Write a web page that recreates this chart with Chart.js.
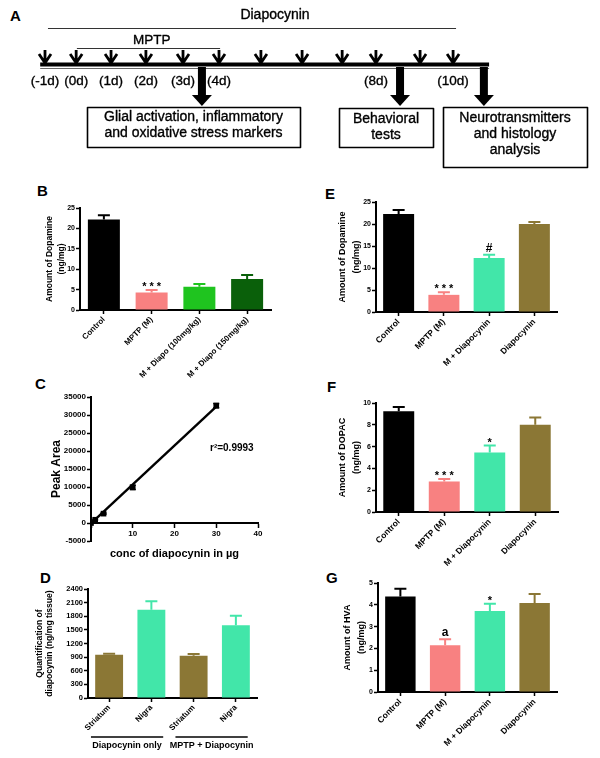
<!DOCTYPE html>
<html>
<head>
<meta charset="utf-8">
<title>Diapocynin / MPTP</title>
<script src="https://cdn.jsdelivr.net/npm/chart.js@4.4.3/dist/chart.umd.min.js"></script>
<style>
  html, body { margin: 0; padding: 0; background: #fff; }
  #fig { position: relative; width: 600px; height: 758px; overflow: hidden; }
  #fig canvas { position: absolute; }
  .tag { position: absolute; font: bold 15px Arial, 'Liberation Sans', sans-serif; line-height: 1; color: #000; }
</style>
</head>
<body>
<div id="fig">
  <div class="tag" style="left:10px;top:8px">A</div>
  <div class="tag" style="left:37px;top:183px">B</div>
  <div class="tag" style="left:35px;top:376px">C</div>
  <div class="tag" style="left:40px;top:570px">D</div>
  <div class="tag" style="left:325px;top:186px">E</div>
  <div class="tag" style="left:327px;top:379px">F</div>
  <div class="tag" style="left:326px;top:570px">G</div>
</div>
<script>
/* ---------- A: treatment timeline ---------- */
// positions are in days, as they sit on the drawn time line (spacing is uneven in the sketch)
const doseDays   = [-1, -0.16, 0.78, 1.72, 2.72, 3.69, 4.82, 5.93, 7.01, 7.92, 9.11, 10];
const doseLabels = ['(-1d)', '(0d)', '(1d)', '(2d)', '(3d)', '(4d)', '', '', '', '(8d)', '', '(10d)'];
const treatNames   = ['Diapocynin', 'MPTP'];
const treatFrom    = [-0.92, -0.14];
const treatTo      = [10.08, 3.72];
const treatLabelAt = [5.2, 1.88];
const timelineEnds = [-1.13, 10.97];
const readoutDays  = [3.23, 8.57, 10.83];
const readoutText  = [
  ['Glial activation, inflammatory', 'and oxidative stress markers'],
  ['Behavioral', 'tests'],
  ['Neurotransmitters', 'and histology', 'analysis']
];

/* ---------- B: dopamine, dose response ---------- */
const bLabels = ['Control', 'MPTP (M)', 'M + Diapo (100mg/kg)', 'M + Diapo (150mg/kg)'];
const bValues = [22.2, 4.3, 5.7, 7.6];
const bErrors = [1.0, 0.6, 0.7, 1.0];
const bMarks  = ['', '* * *', '', ''];
const bTicks  = [0, 5, 10, 15, 20, 25];

/* ---------- C: calibration ---------- */
const concX    = [0, 1, 3, 10, 30];
const areaY    = [0, 900, 2600, 9900, 32600];
const areaErr  = [0, 100, 200, 600, 600];
const fitX     = [0, 30];
const fitY     = [-100, 32300];
const cYTicks  = [-5000, 0, 5000, 10000, 15000, 20000, 25000, 30000, 35000];
const cXTicks  = [0, 10, 20, 30, 40];
const rSqText  = 'r\u00b2=0.9993';
const rSqAt    = [28.5, 20800];

/* ---------- D: diapocynin in tissue ---------- */
const dLabels = ['Striatum', 'Nigra', 'Striatum', 'Nigra'];
const dValues = [955, 1945, 932, 1600];
const dErrors = [20, 183, 37, 213];
const dTicks  = [0, 300, 600, 900, 1200, 1500, 1800, 2100, 2400];
const groupNames = ['Diapocynin only', 'MPTP + Diapocynin'];
const groupFirst = [0, 2];
const groupLast  = [1, 3];

/* ---------- E/F/G ---------- */
const groupLabels = ['Control', 'MPTP (M)', 'M + Diapocynin', 'Diapocynin'];
const eValues = [22.3, 3.9, 12.3, 20.0];
const eErrors = [0.9, 0.6, 0.7, 0.45];
const eMarks  = ['', '* * *', '#', ''];
const eTicks  = [0, 5, 10, 15, 20, 25];

const fValues = [9.24, 2.8, 5.47, 8.0];
const fErrors = [0.4, 0.22, 0.62, 0.68];
const fMarks  = ['', '* * *', '*', ''];
const fTicks  = [0, 2, 4, 6, 8, 10];

const gValues = [4.38, 2.15, 3.72, 4.08];
const gErrors = [0.36, 0.27, 0.33, 0.41];
const gMarks  = ['', 'a', '*', ''];
const gTicks  = [0, 1, 2, 3, 4, 5];

const BLACK = '#000000', PINK = '#f88181', GREEN = '#1fc41f', DKGREEN = '#0a600a',
      MINT = '#42e6a9', OLIVE = '#8b7735';

const FONT = "Arial, 'Liberation Sans', Helvetica, sans-serif";
const NARROW = "'Liberation Sans Narrow', 'Arial Narrow', Arial, sans-serif";
Chart.defaults.font.family = FONT;
Chart.defaults.font.weight = 'bold';
Chart.defaults.color = '#000';

const fig = document.getElementById('fig');
const PAD = { l: 2, t: 12, r: 10, b: 2 };

function makeCanvas(left, top, w, h) {
  const c = document.createElement('canvas');
  c.width = w; c.height = h;
  c.style.left = left + 'px'; c.style.top = top + 'px';
  c.style.width = w + 'px'; c.style.height = h + 'px';
  fig.appendChild(c);
  return c.getContext('2d');
}

const axisBorder = { display: true, color: '#000', width: 2 };
function axisGrid() {
  return { display: true, drawOnChartArea: false, drawTicks: true, tickLength: 4,
           tickColor: '#000', tickWidth: 1.5, offset: false };
}

// upper error bars (same colour as the bar) + significance marks
function errorBars(errors, marks) {
  return {
    id: 'errorBars',
    afterDatasetsDraw(chart) {
      const { ctx } = chart;
      const y = chart.scales.y;
      const ds = chart.data.datasets[0];
      chart.getDatasetMeta(0).data.forEach((bar, i) => {
        const top = y.getPixelForValue(ds.data[i] + errors[i]);
        ctx.save();
        ctx.strokeStyle = ds.backgroundColor[i];
        ctx.lineWidth = 2;
        ctx.beginPath();
        ctx.moveTo(bar.x, bar.y); ctx.lineTo(bar.x, top);
        ctx.moveTo(bar.x - 6, top); ctx.lineTo(bar.x + 6, top);
        ctx.stroke();
        if (marks && marks[i]) {
          ctx.fillStyle = '#000';
          ctx.font = (marks[i].includes('*') ? 'bold 11px ' : 'bold 12px ') + FONT;
          ctx.textAlign = 'center';
          ctx.textBaseline = 'alphabetic';
          ctx.fillText(marks[i], bar.x, top - (marks[i].includes('*') ? 0 : 3));
        }
        ctx.restore();
      });
    }
  };
}

function barPanel(box, d) {
  const [L, T, R, B] = box.area;
  const left = L - box.yW - PAD.l, top = T - PAD.t;
  const ctx = makeCanvas(left, top, R + PAD.r - left, B + box.xH + PAD.b - top);
  return new Chart(ctx, {
    type: 'bar',
    data: {
      labels: d.labels,
      datasets: [{ data: d.values, backgroundColor: d.colors, borderWidth: 0,
                   barPercentage: box.bar, categoryPercentage: 1 }]
    },
    options: {
      responsive: false, animation: false, devicePixelRatio: 1, events: [],
      layout: { padding: { left: PAD.l, top: PAD.t, right: PAD.r, bottom: PAD.b } },
      plugins: { legend: { display: false }, tooltip: { enabled: false } },
      scales: {
        x: {
          grid: axisGrid(), border: axisBorder,
          ticks: { font: { size: box.xFont, weight: 'bold' }, minRotation: 45, maxRotation: 45,
                   autoSkip: false, padding: 1 },
          afterFit: s => { s.height = box.xH; }
        },
        y: {
          min: d.ticks[0], max: d.ticks[d.ticks.length - 1],
          ticks: { stepSize: d.ticks[1] - d.ticks[0], font: { size: box.tickFont, weight: 'bold' },
                   padding: 1, callback: v => String(v) },
          grid: axisGrid(), border: axisBorder,
          title: { display: true, text: d.title, padding: 0,
                   font: { size: box.titleSize, weight: 'bold', lineHeight: box.titleLH } },
          afterFit: s => { s.width = box.yW; }
        }
      }
    },
    plugins: [errorBars(d.errors, d.marks)].concat(d.extra || [])
  });
}

/* ---------- A ---------- */
const boxesA = [[87, 107, 300, 147, 117], [339, 108, 433, 147, 119], [443, 107, 587, 167, 118]];
// scanned text is a bit heavier than plain regular weight
function heavyText(ctx, t, x, y) {
  ctx.strokeText(t, x, y);
  ctx.fillText(t, x, y);
}
const timeline = {
  id: 'timeline',
  afterDraw(chart) {
    const { ctx } = chart;
    const X = v => chart.scales.x.getPixelForValue(v);
    ctx.save();
    ctx.fillStyle = '#000';
    ctx.textAlign = 'center';
    ctx.textBaseline = 'middle';
    ctx.lineJoin = 'round';

    // treatment periods
    treatNames.forEach((name, i) => {
      const yl = i === 0 ? 28.5 : 48.5;
      ctx.strokeStyle = '#333'; ctx.lineWidth = 1;
      ctx.beginPath(); ctx.moveTo(X(treatFrom[i]), yl); ctx.lineTo(X(treatTo[i]), yl); ctx.stroke();
      ctx.font = (i === 0 ? '14px ' : '13.5px ') + FONT;
      ctx.strokeStyle = '#000'; ctx.lineWidth = 0.35;
      heavyText(ctx, name, X(treatLabelAt[i]), i === 0 ? 15 : 40);
    });

    // time line
    ctx.strokeStyle = '#000'; ctx.lineWidth = 4;
    ctx.beginPath(); ctx.moveTo(X(timelineEnds[0]), 64.5); ctx.lineTo(X(timelineEnds[1]), 64.5); ctx.stroke();
    ctx.strokeStyle = '#666'; ctx.lineWidth = 1;
    ctx.beginPath(); ctx.moveTo(X(timelineEnds[0]), 68.5); ctx.lineTo(X(timelineEnds[1]), 68.5); ctx.stroke();

    // daily doses
    ctx.strokeStyle = '#000';
    ctx.font = '13.5px ' + FONT;
    doseDays.forEach((d, i) => {
      const x = X(d);
      ctx.lineWidth = 2.8;
      ctx.beginPath();
      ctx.moveTo(x, 50); ctx.lineTo(x, 63);
      ctx.moveTo(x - 6, 54); ctx.lineTo(x, 63); ctx.lineTo(x + 6, 54);
      ctx.stroke();
      ctx.lineWidth = 0.35;
      if (doseLabels[i]) heavyText(ctx, doseLabels[i], x, 81);
    });

    // read-outs
    ctx.font = '14px ' + FONT;
    readoutDays.forEach((d, i) => {
      const x = X(d);
      ctx.fillRect(x - 4, 67, 8, 29);
      ctx.beginPath(); ctx.moveTo(x - 10, 95); ctx.lineTo(x + 10, 95); ctx.lineTo(x, 106); ctx.closePath(); ctx.fill();
      const b = boxesA[i];
      ctx.lineWidth = 1.6;
      ctx.strokeRect(b[0] + 0.5, b[1] + 0.5, b[2] - b[0], b[3] - b[1]);
      ctx.lineWidth = 0.35;
      readoutText[i].forEach((t, k) => heavyText(ctx, t, (b[0] + b[2]) / 2, b[4] + k * 16));
    });
    ctx.restore();
  }
};
new Chart(makeCanvas(0, 0, 600, 172), {
  type: 'scatter',
  data: { datasets: [{ data: doseDays.map(d => ({ x: d, y: 0 })), pointRadius: 0 }] },
  options: {
    responsive: false, animation: false, devicePixelRatio: 1, events: [],
    plugins: { legend: { display: false }, tooltip: { enabled: false } },
    scales: {
      x: { type: 'linear', display: false, min: -2.213, max: 13.96 },
      y: { display: false, min: -1, max: 1 }
    }
  },
  plugins: [timeline]
});

/* ---------- B ---------- */
barPanel({ area: [80, 208, 271, 310], yW: 36, xH: 72, bar: 0.67, xFont: 8, tickFont: 7,
           titleSize: 8.5, titleLH: 1.41 },
  { labels: bLabels, values: bValues, errors: bErrors, marks: bMarks, ticks: bTicks,
    colors: [BLACK, PINK, GREEN, DKGREEN], title: ['Amount of Dopamine', '(ng/mg)'] });

/* ---------- C ---------- */
const cExtras = {
  id: 'cExtras',
  afterDatasetsDraw(chart) {
    const { ctx, scales: { x, y } } = chart;
    ctx.save();
    ctx.strokeStyle = '#000'; ctx.lineWidth = 1.5;
    concX.forEach((c, i) => {
      if (!areaErr[i]) return;
      const px = x.getPixelForValue(c);
      const y0 = y.getPixelForValue(areaY[i] - areaErr[i]), y1 = y.getPixelForValue(areaY[i] + areaErr[i]);
      ctx.beginPath();
      ctx.moveTo(px, y0); ctx.lineTo(px, y1);
      ctx.moveTo(px - 3, y0); ctx.lineTo(px + 3, y0);
      ctx.moveTo(px - 3, y1); ctx.lineTo(px + 3, y1);
      ctx.stroke();
    });
    ctx.fillStyle = '#000';
    ctx.font = 'bold 10px ' + NARROW;
    ctx.textAlign = 'left'; ctx.textBaseline = 'middle';
    ctx.fillText(rSqText, x.getPixelForValue(rSqAt[0]), y.getPixelForValue(rSqAt[1]));
    ctx.restore();
  }
};
(function () {
  const [L, T, R, B] = [91, 397, 258, 541], yW = 41, padB = 22;
  const left = L - yW - PAD.l, top = T - PAD.t;
  new Chart(makeCanvas(left, top, R + PAD.r - left, B + padB - top), {
    type: 'scatter',
    data: {
      datasets: [
        { data: concX.map((c, i) => ({ x: c, y: areaY[i] })), pointStyle: 'rect', pointRadius: 4,
          backgroundColor: '#000', borderColor: '#000', borderWidth: 0 },
        { data: fitX.map((c, i) => ({ x: c, y: fitY[i] })), showLine: true, pointRadius: 0,
          borderColor: '#000', borderWidth: 2.4 }
      ]
    },
    options: {
      responsive: false, animation: false, devicePixelRatio: 1, events: [],
      layout: { padding: { left: PAD.l, top: PAD.t, right: PAD.r, bottom: padB } },
      plugins: { legend: { display: false }, tooltip: { enabled: false } },
      scales: {
        x: {
          type: 'linear', position: { y: 0 }, min: cXTicks[0], max: cXTicks[cXTicks.length - 1],
          ticks: { stepSize: cXTicks[1] - cXTicks[0], font: { size: 8, weight: 'bold' }, padding: 2,
                   callback: v => (v === 0 ? '' : String(v)) },
          grid: axisGrid(), border: axisBorder,
          title: { display: true, text: 'conc of diapocynin in \u00b5g', padding: 0,
                   font: { family: NARROW, size: 11, weight: 'bold', lineHeight: 1.2 } },
          afterFit: s => { s.height = 38; }
        },
        y: {
          min: cYTicks[0], max: cYTicks[cYTicks.length - 1],
          ticks: { stepSize: cYTicks[1] - cYTicks[0], font: { size: 8, weight: 'bold' }, padding: 1,
                   callback: v => String(v) },
          grid: axisGrid(), border: axisBorder,
          title: { display: true, text: 'Peak Area', padding: 0,
                   font: { size: 12, weight: 'bold', lineHeight: 1.15 } },
          afterFit: s => { s.width = yW; }
        }
      }
    },
    plugins: [cExtras]
  });
})();

/* ---------- D ---------- */
const dGroups = {
  id: 'dGroups',
  afterDraw(chart) {
    const { ctx, chartArea, scales: { x } } = chart;
    const w = x.getPixelForValue(1) - x.getPixelForValue(0);
    const yl = chartArea.bottom + 39;
    ctx.save();
    ctx.strokeStyle = '#000'; ctx.fillStyle = '#000'; ctx.lineWidth = 1.5;
    ctx.font = 'bold 9px ' + FONT;
    ctx.textAlign = 'center'; ctx.textBaseline = 'middle';
    groupNames.forEach((name, g) => {
      const x0 = x.getPixelForValue(groupFirst[g]) - 0.43 * w;
      const x1 = x.getPixelForValue(groupLast[g]) + 0.28 * w;
      ctx.beginPath(); ctx.moveTo(x0, yl); ctx.lineTo(x1, yl); ctx.stroke();
      ctx.fillText(name, (x0 + x1) / 2, yl + 8.5);
    });
    ctx.restore();
  }
};
barPanel({ area: [88, 589, 257, 698], yW: 53, xH: 56, bar: 0.66, xFont: 8, tickFont: 7.5,
           titleSize: 8.6, titleLH: 1.16 },
  { labels: dLabels, values: dValues, errors: dErrors, marks: null, ticks: dTicks,
    colors: [OLIVE, MINT, OLIVE, MINT], title: ['Quantification of', 'diapocynin (ng/mg tissue)'],
    extra: [dGroups] });

/* ---------- E ---------- */
barPanel({ area: [376, 202, 557, 312], yW: 40, xH: 70, bar: 0.685, xFont: 8.5, tickFont: 7,
           titleSize: 9, titleLH: 1.55 },
  { labels: groupLabels, values: eValues, errors: eErrors, marks: eMarks, ticks: eTicks,
    colors: [BLACK, PINK, MINT, OLIVE], title: ['Amount of Dopamine', '(ng/mg)'] });

/* ---------- F ---------- */
barPanel({ area: [376, 403, 558, 512], yW: 40, xH: 66, bar: 0.68, xFont: 8.5, tickFont: 7,
           titleSize: 9, titleLH: 1.55 },
  { labels: groupLabels, values: fValues, errors: fErrors, marks: fMarks, ticks: fTicks,
    colors: [BLACK, PINK, MINT, OLIVE], title: ['Amount of DOPAC', '(ng/mg)'] });

/* ---------- G ---------- */
barPanel({ area: [378, 583, 557, 692], yW: 37, xH: 62, bar: 0.68, xFont: 8.5, tickFont: 7,
           titleSize: 9, titleLH: 1.55 },
  { labels: groupLabels, values: gValues, errors: gErrors, marks: gMarks, ticks: gTicks,
    colors: [BLACK, PINK, MINT, OLIVE], title: ['Amount of HVA', '(ng/mg)'] });
</script>
</body>
</html>
